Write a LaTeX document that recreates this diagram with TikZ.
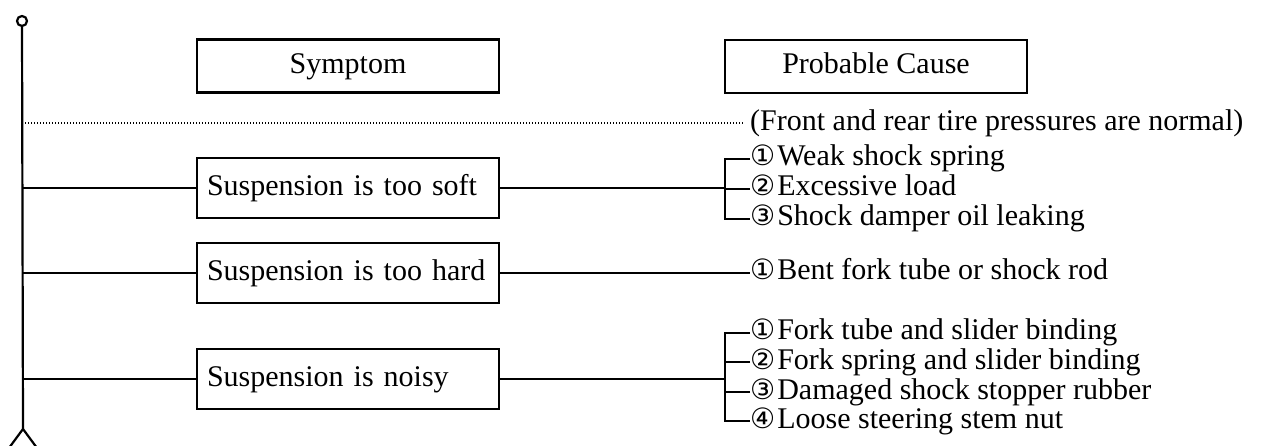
\documentclass[tikz,border=0pt]{standalone}
\usepackage{fontspec}
\setmainfont{Liberation Serif}
\newfontfamily\circfont{DejaVu Sans}
\usetikzlibrary{positioning}

\newcommand{\cnum}[1]{{\fontsize{28}{28}\selectfont\circfont #1}\hspace{2pt}}

\begin{document}
\begin{tikzpicture}[x=1pt, y=-1pt, font=\fontsize{30}{30}\selectfont,
  headbox/.style={draw, line width=2.6pt, minimum width=302pt, minimum height=53pt, inner sep=0pt,
                text height=21pt, text depth=6pt},
  symbox/.style={draw, line width=2.6pt, text width=282pt, inner xsep=10pt, inner ysep=0pt,
                minimum height=60pt, align=left, text height=21pt, text depth=6pt},
  cause/.style={anchor=west, inner sep=0pt, text height=21pt, text depth=7pt},
  link/.style={line width=2.2pt},
  dots/.style={line width=1.1pt, dash pattern=on 1pt off 2pt},
]
  \useasboundingbox (0,0) rectangle (1269,446);

  % spine with ring on top and the foot
  \node[circle, draw, line width=2.2pt, minimum size=10pt, inner sep=0pt] (ring) at (22,21) {};
  \coordinate (foot) at (23,429);
  \coordinate (footl) at (9,448);
  \coordinate (footr) at (37,448);
  \draw[link] (ring) -- (foot);
  \draw[link] (footl) -- (foot) -- (footr);

  % headers
  \node[headbox] (hsym) at (348,66) {Symptom};
  \node[headbox] (hcause) at (876,66.5) {Probable Cause};

  % tire pressure note
  \node[anchor=west, inner xsep=7pt, inner ysep=0pt] (note) at (743,123) {(Front and rear tire pressures are normal)};
  \draw[dots] (note.west -| ring) -- (note.west);

  % Symptom 1
  \node[symbox] (s1) at (348,188) {\mbox{Suspension is too soft}};
  \coordinate (k1) at (725,188);
  \node[cause] (c11) at (750,159) {\cnum{①}Weak shock spring};
  \node[cause] (c12) at (750,189) {\cnum{②}Excessive load};
  \node[cause] (c13) at (750,219) {\cnum{③}Shock damper oil leaking};
  \draw[link] (s1.west -| ring) -- (s1.west);
  \draw[link] (s1.east) -- (k1);
  \draw[link] (c11.west) -- (c11.west -| k1) -- (c13.west -| k1) -- (c13.west);
  \draw[link] (c12.west) -- (c12.west -| k1);

  % Symptom 2
  \node[symbox] (s2) at (348,273) {\mbox{Suspension is too hard}};
  \node[cause] (c21) at (750,273) {\cnum{①}Bent fork tube or shock rod};
  \draw[link] (s2.west -| ring) -- (s2.west);
  \draw[link] (s2.east) -- (c21.west);

  % Symptom 3
  \node[symbox] (s3) at (348,379) {\mbox{Suspension is noisy}};
  \coordinate (k3) at (725,379);
  \node[cause] (c31) at (750,333) {\cnum{①}Fork tube and slider binding};
  \node[cause] (c32) at (750,362) {\cnum{②}Fork spring and slider binding};
  \node[cause] (c33) at (750,392) {\cnum{③}Damaged shock stopper rubber};
  \node[cause] (c34) at (750,421) {\cnum{④}Loose steering stem nut};
  \draw[link] (s3.west -| ring) -- (s3.west);
  \draw[link] (s3.east) -- (k3);
  \draw[link] (c31.west) -- (c31.west -| k3) -- (c34.west -| k3) -- (c34.west);
  \draw[link] (c32.west) -- (c32.west -| k3);
  \draw[link] (c33.west) -- (c33.west -| k3);
\end{tikzpicture}
\end{document}
